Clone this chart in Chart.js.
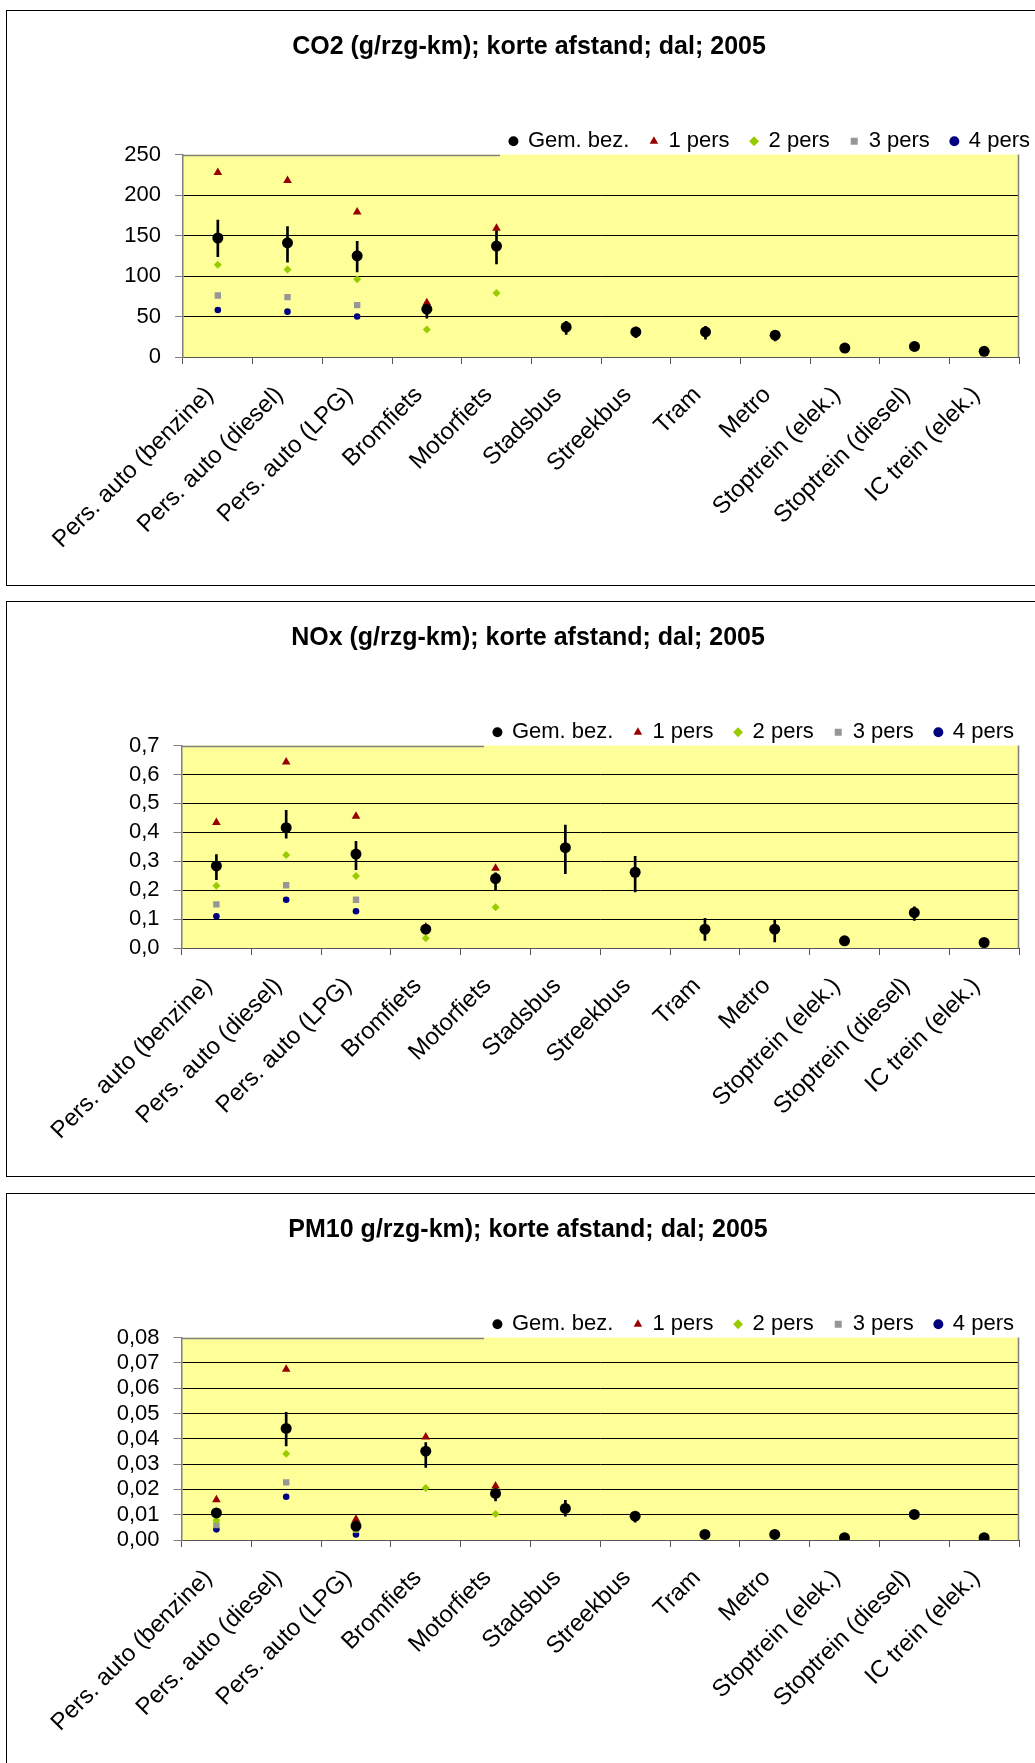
<!DOCTYPE html>
<html>
<head>
<meta charset="utf-8">
<script src="https://cdn.jsdelivr.net/npm/chart.js@4.4.1/dist/chart.umd.min.js"></script>
<style>
    html, body { margin: 0; padding: 0; background: #fff; }
    body { width: 1035px; height: 1763px; position: relative; overflow: hidden; }
    .panel { position: absolute; left: 6px; width: 1100px; height: 574px; border: 1px solid #000; background: #fff; }
    .panel canvas { position: absolute; left: 0; top: 0; }
</style>
</head>
<body>
<div class="panel" style="top:10px"><canvas id="co2Chart" width="1044" height="574"></canvas></div>
<div class="panel" style="top:601px"><canvas id="noxChart" width="1044" height="574"></canvas></div>
<div class="panel" style="top:1193px"><canvas id="pm10Chart" width="1044" height="574"></canvas></div>

<script>
// Categories (vervoerwijzen)
const categories = ['Pers. auto (benzine)', 'Pers. auto (diesel)', 'Pers. auto (LPG)', 'Bromfiets', 'Motorfiets',
    'Stadsbus', 'Streekbus', 'Tram', 'Metro', 'Stoptrein (elek.)', 'Stoptrein (diesel)', 'IC trein (elek.)'];
const seriesNames = ['Gem. bez.', '1 pers', '2 pers', '3 pers', '4 pers'];

// CO2 (g/rzg-km)
const co2Gem = [147, 141, 125, 59, 137, 37, 31, 31, 27, 11, 13, 7];
const co2Low = [124, 117, 105, 48, 115, 28, 24, 22, 20, null, null, null];
const co2High = [169, 161, 143, 66, 156, 44, 37, 38, 33, null, null, null];
const co2P1 = [228, 218, 179, 67, 159, null, null, null, null, null, null, null];
const co2P2 = [114, 108, 96, 34, 79, null, null, null, null, null, null, null];
const co2P3 = [76, 74, 64, null, null, null, null, null, null, null, null, null];
const co2P4 = [58, 56, 50, null, null, null, null, null, null, null, null, null];
const co2Ticks = { max: 250, step: 50, decimals: 0 };

// NOx (g/rzg-km)
const noxGem = [0.284, 0.416, 0.325, 0.065, 0.240, 0.347, 0.262, 0.065, 0.065, 0.025, 0.122, 0.019];
const noxLow = [0.236, 0.380, 0.271, null, 0.202, 0.257, 0.194, 0.026, 0.021, null, 0.095, null];
const noxHigh = [0.323, 0.476, 0.369, null, 0.260, 0.425, 0.317, 0.103, 0.097, null, 0.142, null];
const noxP1 = [0.434, 0.643, 0.456, 0.073, 0.276, null, null, null, null, null, null, null];
const noxP2 = [0.215, 0.322, 0.249, 0.034, 0.141, null, null, null, null, null, null, null];
const noxP3 = [0.151, 0.217, 0.167, null, null, null, null, null, null, null, null, null];
const noxP4 = [0.110, 0.167, 0.127, null, null, null, null, null, null, null, null, null];
const noxTicks = { max: 0.7, step: 0.1, decimals: 1 };

// PM10 (g/rzg-km)
const pmGem = [0.0107, 0.0441, 0.0055, 0.0351, 0.0184, 0.0125, 0.0094, 0.0022, 0.0022, 0.0009, 0.0101, 0.0009];
const pmLow = [0.0090, 0.0372, 0.0045, 0.0287, 0.0154, 0.0094, 0.0070, null, null, null, 0.0094, null];
const pmHigh = [0.0125, 0.0505, 0.0065, 0.0385, 0.0200, 0.0157, 0.0112, null, null, null, 0.0108, null];
const pmP1 = [0.0159, 0.0675, 0.0082, 0.0407, 0.0213, null, null, null, null, null, null, null];
const pmP2 = [0.0078, 0.0341, 0.0042, 0.0206, 0.0103, null, null, null, null, null, null, null];
const pmP3 = [0.0059, 0.0228, 0.0040, null, null, null, null, null, null, null, null, null];
const pmP4 = [0.0042, 0.0171, 0.0022, null, null, null, null, null, null, null, null, null];
const pmTicks = { max: 0.08, step: 0.01, decimals: 2 };

const FONT = '"Liberation Sans", Arial, sans-serif';

// yellow plot area + grey frame (top frame stops where the legend box starts)
const plotFrame = {
    id: 'plotFrame',
    beforeDraw(chart) {
        const { ctx, chartArea: a } = chart;
        ctx.save();
        ctx.fillStyle = '#FFFF99';
        ctx.fillRect(a.left, a.top, a.right - a.left, a.bottom - a.top);
        ctx.restore();
    },
    beforeDatasetsDraw(chart) {
        const { ctx, chartArea: a } = chart;
        const hb = chart.legend && chart.legend.legendHitBoxes;
        const stop = hb && hb.length ? hb[0].left - 10 : a.right;
        ctx.save();
        ctx.strokeStyle = '#808080';
        ctx.lineWidth = 1.5;
        ctx.beginPath();
        ctx.moveTo(a.left, Math.round(a.top) + 0.5);
        ctx.lineTo(stop, Math.round(a.top) + 0.5);
        ctx.moveTo(Math.round(a.right) - 0.5, a.top);
        ctx.lineTo(Math.round(a.right) - 0.5, a.bottom);
        ctx.stroke();
        ctx.restore();
    }
};

function pointSet(label, data, style, color, radius) {
    return {
        type: 'line',
        label: label,
        data: data,
        showLine: false,
        pointStyle: style,
        pointRadius: radius,
        pointHoverRadius: radius,
        pointBackgroundColor: color,
        pointBorderColor: color,
        pointBorderWidth: 0,
        backgroundColor: color,
        borderColor: color
    };
}

function createChart(id, title, gem, low, high, p1, p2, p3, p4, ticks, frame) {
    const ctx = document.getElementById(id);
    const errorBars = low.map((l, i) => (l == null ? null : [l, high[i]]));

    return new Chart(ctx, {
        type: 'line',
        data: {
            labels: categories,
            datasets: [
                pointSet(seriesNames[0], gem, 'circle', '#000000', 5.5),
                pointSet(seriesNames[1], p1, 'triangle', '#990000', 5),
                pointSet(seriesNames[2], p2, 'rectRot', '#99CC00', 4),
                pointSet(seriesNames[3], p3, 'rect', '#969696', 4.5),
                pointSet(seriesNames[4], p4, 'circle', '#000080', 3.3),
                {
                    type: 'bar',
                    label: 'err',
                    data: errorBars,
                    backgroundColor: '#000000',
                    borderWidth: 0,
                    barThickness: 2
                }
            ]
        },
        options: {
            responsive: false,
            animation: false,
            layout: { padding: { left: frame.padL, right: frame.padR, top: 0, bottom: 0 } },
            scales: {
                x: {
                    type: 'category',
                    offset: true,
                    grid: { offset: true, drawOnChartArea: false, drawTicks: true, tickLength: 7, tickColor: '#555' },
                    border: { color: '#555' },
                    ticks: {
                        autoSkip: false,
                        minRotation: 45,
                        maxRotation: 45,
                        padding: 17,
                        labelOffset: -8,
                        color: '#000',
                        font: { family: FONT, size: 24 }
                    },
                    afterFit: s => { s.height = 228; }
                },
                y: {
                    min: 0,
                    max: ticks.max,
                    ticks: {
                        stepSize: ticks.step,
                        autoSkip: false,
                        maxTicksLimit: 20,
                        padding: 14,
                        color: '#000',
                        font: { family: FONT, size: 22, lineHeight: 1 },
                        callback: v => Number(v).toFixed(ticks.decimals).replace('.', ',')
                    },
                    grid: {
                        color: c => (c.tick && (c.tick.value <= 1e-9 || c.tick.value >= ticks.max - 1e-9)) ? 'rgba(0,0,0,0)' : '#000',
                        lineWidth: 1,
                        tickLength: 8,
                        tickColor: '#808080'
                    },
                    border: { color: '#808080', width: 1.5 },
                    afterFit: s => { s.width = frame.yWidth; }
                },
                yRight: {
                    position: 'right',
                    display: true,
                    grid: { display: false },
                    border: { display: false },
                    ticks: { display: false },
                    afterFit: s => { s.width = frame.rightGap; }
                }
            },
            plugins: {
                title: {
                    display: true,
                    text: title,
                    color: '#000',
                    font: { family: FONT, size: 25, weight: 'bold' },
                    padding: { top: 21, bottom: 47.3 }
                },
                legend: {
                    position: 'top',
                    align: 'end',
                    maxHeight: 45.3,
                    labels: {
                        usePointStyle: true,
                        boxWidth: 7,
                        boxHeight: 7,
                        padding: 21,
                        color: '#000',
                        font: { family: FONT, size: 22 },
                        filter: item => item.text !== 'err'
                    }
                },
                tooltip: { enabled: false }
            }
        },
        plugins: [plotFrame]
    });
}

const frameTop = { padL: 0, padR: 0, yWidth: 176, rightGap: 32 };
const frameLower = { padL: 14, padR: 16, yWidth: 160.5, rightGap: 16 };

createChart('co2Chart', 'CO2 (g/rzg-km); korte afstand; dal; 2005',
    co2Gem, co2Low, co2High, co2P1, co2P2, co2P3, co2P4, co2Ticks, frameTop);
createChart('noxChart', 'NOx (g/rzg-km); korte afstand; dal; 2005',
    noxGem, noxLow, noxHigh, noxP1, noxP2, noxP3, noxP4, noxTicks, frameLower);
createChart('pm10Chart', 'PM10 g/rzg-km); korte afstand; dal; 2005',
    pmGem, pmLow, pmHigh, pmP1, pmP2, pmP3, pmP4, pmTicks, frameLower);
</script>
</body>
</html>
